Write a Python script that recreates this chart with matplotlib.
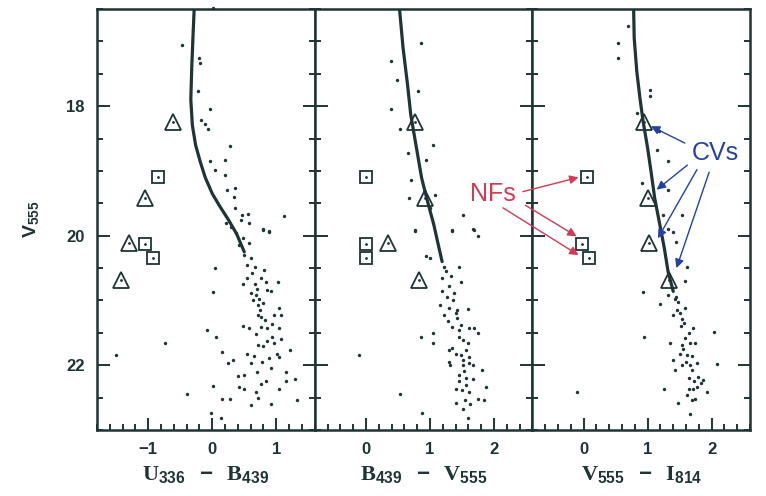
import matplotlib.pyplot as plt
import numpy as np
from matplotlib.ticker import MultipleLocator

plt.rcParams['font.family'] = ['Liberation Sans', 'DejaVu Sans']
plt.rcParams['mathtext.fontset'] = 'custom'
plt.rcParams['mathtext.rm'] = 'Liberation Serif:bold'
plt.rcParams['mathtext.sf'] = 'Liberation Sans:bold'

# V magnitudes of the cataclysmic variables (triangles) and the novae-like faint stars (squares)
cv_v = [18.24, 19.42, 20.12, 20.69]
nf_v = [19.09, 20.13, 20.35]

# colours of the same stars in each index
cv_ub = [-0.62, -1.05, -1.30, -1.43]
cv_bv = [0.76, 0.92, 0.35, 0.83]
cv_vi = [0.95, 1.00, 1.02, 1.33]
nf_ub = [-0.85, -1.05, -0.93]
nf_bv = [0.00, 0.00, 0.00]
nf_vi = [0.06, -0.02, 0.08]

# main-sequence ridge (colour, V)
ridge_ub = [(-0.28, 16.45), (-0.30, 16.9), (-0.32, 17.4), (-0.335, 17.9), (-0.31, 18.3),
            (-0.26, 18.6), (-0.19, 18.85), (-0.11, 19.1), (0.00, 19.35), (0.12, 19.55),
            (0.25, 19.75), (0.38, 19.97), (0.50, 20.25)]
ridge_bv = [(0.52, 16.45), (0.58, 17.1), (0.65, 17.67), (0.70, 18.13), (0.79, 18.65),
            (0.87, 19.11), (0.97, 19.50), (1.06, 19.83), (1.13, 20.14), (1.19, 20.40)]
ridge_vi = [(0.78, 16.45), (0.79, 16.95), (0.83, 17.46), (0.88, 17.88), (0.93, 18.24),
            (1.00, 18.65), (1.06, 19.06), (1.11, 19.42), (1.19, 19.83), (1.26, 20.19),
            (1.32, 20.56), (1.40, 20.86)]

# individual stars off the ridge / on the faint end
field_ub = [(-0.48, 17.05), (-0.20, 17.26), (-0.19, 17.33), (-0.22, 17.77), (-0.03, 18.05),
            (-0.18, 18.21), (-0.11, 18.28), (-0.06, 18.36), (0.28, 18.61), (0.20, 18.83),
            (-0.03, 18.85), (0.04, 18.98), (0.20, 19.07), (0.23, 19.29), (0.35, 19.27),
            (0.34, 19.41), (0.35, 19.57), (0.46, 19.68), (0.56, 19.67), (1.12, 19.69),
            (0.80, 19.90), (0.89, 19.93), (0.45, 19.76), (0.58, 19.81), (0.80, 19.91),
            (0.89, 19.94), (0.04, 20.50), (0.01, 20.87), (1.02, 20.72), (-0.08, 21.46),
            (0.06, 21.57), (0.16, 21.80), (0.25, 21.97), (0.32, 21.92), (-0.39, 22.44),
            (0.01, 22.32), (0.15, 22.52), (0.27, 22.52), (0.91, 22.60), (1.32, 22.54),
            (1.30, 22.21), (1.15, 22.25), (1.04, 22.37), (0.40, 22.16), (0.49, 22.15),
            (0.42, 22.33), (0.49, 22.37), (0.68, 22.41), (0.76, 22.29), (0.84, 22.25),
            (0.70, 22.11), (0.60, 21.97), (0.54, 21.83), (0.65, 21.85), (0.48, 21.39),
            (0.58, 21.43), (0.76, 21.41), (0.86, 21.43), (0.94, 21.37), (1.04, 21.43),
            (0.94, 21.56), (1.07, 21.59), (0.97, 21.66), (0.71, 21.69), (0.79, 21.70),
            (0.89, 21.89), (1.01, 21.83), (1.04, 21.88), (1.21, 21.77), (1.15, 22.10),
            (-0.02, 22.74), (0.13, 22.81), (1.04, 21.11), (1.08, 21.23), (0.97, 21.23),
            (0.71, 21.23), (0.76, 21.25), (0.60, 20.89), (0.68, 20.92), (0.73, 20.97),
            (0.71, 21.07), (0.79, 21.04), (0.86, 20.84), (0.91, 20.86), (0.48, 20.74),
            (0.55, 20.66), (0.76, 20.66), (0.84, 20.71), (0.66, 20.48), (0.81, 20.53),
            (0.60, 20.35), (0.50, 20.30), (0.42, 20.14), (0.48, 20.04), (0.58, 20.12),
            (0.29, 19.86), (0.37, 19.96), (0.22, 19.81), (-0.74, 21.65), (-1.50, 21.84),
            (0.55, 20.45), (0.62, 20.58), (0.66, 20.75), (0.70, 20.82), (0.63, 21.00),
            (0.74, 21.15), (0.82, 21.30), (0.68, 21.52), (0.85, 21.62), (0.78, 21.95),
            (0.92, 22.05), (0.72, 22.50), (0.60, 22.62), (0.01, 16.49)]
field_bv = [(0.86, 17.03), (0.39, 17.31), (0.49, 17.59), (0.82, 17.77), (0.39, 18.05),
            (0.54, 18.36), (1.04, 18.60), (0.94, 18.83), (0.66, 18.73), (0.71, 19.14),
            (0.68, 19.42), (1.08, 19.37), (1.00, 19.58), (1.51, 19.68), (1.67, 19.89),
            (1.75, 20.01), (0.77, 19.91), (1.35, 19.91), (0.77, 19.93), (1.35, 19.93),
            (1.69, 19.91), (0.94, 20.31), (1.00, 20.34), (1.46, 20.49), (1.48, 20.71),
            (1.19, 20.66), (1.19, 20.86), (1.16, 21.07), (1.30, 21.11), (1.59, 21.13),
            (1.22, 21.23), (1.43, 21.27), (1.35, 21.41), (1.48, 21.38), (1.61, 21.42),
            (1.69, 21.43), (1.75, 21.51), (0.86, 21.57), (1.05, 21.51), (1.04, 21.65),
            (-0.11, 21.84), (1.30, 21.77), (1.35, 21.73), (1.40, 21.82), (1.48, 21.84),
            (1.56, 21.77), (1.61, 21.87), (1.30, 21.95), (1.51, 22.00), (1.61, 21.97),
            (1.68, 22.00), (1.81, 22.08), (1.46, 22.15), (1.57, 22.19), (1.67, 22.21),
            (1.56, 22.31), (1.40, 22.37), (1.50, 22.38), (1.61, 22.41), (1.87, 22.33),
            (1.75, 22.52), (1.85, 22.54), (1.55, 22.54), (1.40, 22.59), (0.53, 22.44),
            (0.88, 22.73), (1.59, 22.81), (1.32, 22.00), (1.53, 22.09), (1.46, 21.56),
            (1.51, 21.61), (1.59, 21.66), (1.25, 20.55), (1.30, 20.78), (1.27, 20.95),
            (1.36, 21.00), (1.28, 21.32), (1.42, 21.15), (1.22, 20.48), (1.33, 20.62),
            (1.38, 20.88), (1.40, 21.20), (1.45, 21.45), (1.52, 21.92), (1.45, 22.25),
            (1.62, 22.60), (1.52, 22.68)]
field_vi = [(0.54, 17.03), (0.54, 17.25), (0.70, 16.77), (1.04, 17.75), (1.04, 17.85),
            (0.83, 18.11), (1.17, 18.39), (1.14, 18.68), (1.32, 18.84), (1.24, 19.22),
            (1.32, 19.29), (1.54, 19.68), (1.32, 19.89), (1.24, 19.68), (0.91, 19.19),
            (1.40, 19.94), (1.45, 20.09), (1.61, 20.49), (1.59, 20.70), (0.93, 20.87),
            (1.19, 21.06), (1.48, 21.02), (1.58, 21.11), (1.40, 21.23), (1.54, 21.28),
            (1.71, 21.43), (1.64, 21.51), (1.56, 21.35), (2.03, 21.49), (0.95, 21.57),
            (1.35, 21.65), (1.53, 21.69), (1.66, 21.65), (1.74, 21.66), (1.50, 21.82),
            (1.61, 21.84), (1.69, 21.85), (1.40, 21.92), (1.53, 22.00), (1.66, 22.00),
            (1.77, 21.97), (1.43, 22.08), (1.69, 22.08), (1.64, 22.19), (1.79, 22.18),
            (1.87, 22.23), (1.77, 22.33), (1.84, 22.28), (1.93, 22.41), (1.64, 22.37),
            (1.71, 22.36), (1.61, 22.46), (1.69, 22.54), (1.74, 22.52), (1.48, 22.59),
            (1.26, 22.37), (1.66, 22.75), (-0.11, 22.42), (2.09, 21.98), (1.32, 20.91),
            (1.45, 20.94), (1.38, 20.81), (1.46, 21.15), (1.52, 21.40), (1.58, 21.58),
            (1.42, 20.98), (1.50, 21.20), (1.55, 21.75), (1.60, 21.95), (1.72, 22.25)]

xlabels = [r'$\mathrm{U}_{\mathsf{336}}\ \ \mathsf{−}\ \ \mathrm{B}_{\mathsf{439}}$',
           r'$\mathrm{B}_{\mathsf{439}}\ \ \mathsf{−}\ \ \mathrm{V}_{\mathsf{555}}$',
           r'$\mathrm{V}_{\mathsf{555}}\ \ \mathsf{−}\ \ \mathrm{I}_{\mathsf{814}}$']
xlims = [(-1.8, 1.6), (-0.8, 2.6), (-0.8, 2.6)]

ink = '#1f3434'
red = '#d23a55'
blue = '#2442a6'

fig = plt.figure(figsize=(7.66, 4.96), dpi=100)
x0, w = 97 / 766, 217.7 / 766
y0, h = 66 / 496, 421 / 496
axes = [fig.add_axes([x0 + i * w, y0, w, h]) for i in range(3)]

panels = [(ridge_ub, field_ub, cv_ub, nf_ub),
          (ridge_bv, field_bv, cv_bv, nf_bv),
          (ridge_vi, field_vi, cv_vi, nf_vi)]

for i, (ax, (ridge, field, cvx, nfx)) in enumerate(zip(axes, panels)):
    rx, rv = np.array(ridge).T
    fx, fv = np.array(field).T
    ax.plot(rx, rv, color=ink, lw=2.3, solid_capstyle='round', solid_joinstyle='round')
    ax.scatter(fx, fv, s=6, color=ink, lw=0, clip_on=False)
    ax.plot(cvx, cv_v, '^', mfc='none', mec=ink, ms=11, mew=1.3)
    ax.plot(nfx, nf_v, 's', mfc='none', mec=ink, ms=8.5, mew=1.3)
    ax.plot(cvx + nfx, cv_v + nf_v, '.', color=ink, ms=2)

    ax.set_xlim(*xlims[i])
    ax.set_ylim(23, 16.5)
    ax.xaxis.set_major_locator(MultipleLocator(1))
    ax.xaxis.set_minor_locator(MultipleLocator(0.2))
    ax.yaxis.set_major_locator(MultipleLocator(2))
    ax.yaxis.set_minor_locator(MultipleLocator(0.5))
    ax.tick_params(which='both', direction='in', left=True, right=True, top=False,
                   bottom=True, color=ink, width=1.4, labelcolor=ink)
    ax.tick_params(which='major', length=9, pad=9, labelsize=12)
    ax.tick_params(which='minor', length=4.5)
    for lab in ax.get_xticklabels() + ax.get_yticklabels():
        lab.set_fontweight('bold')
    for sp in ax.spines.values():
        sp.set_linewidth(1.8)
        sp.set_color(ink)
    ax.set_xlabel(xlabels[i], fontsize=16, color=ink, labelpad=5)
    if i > 0:
        ax.tick_params(labelleft=False)

axes[0].set_ylabel(r'$\mathsf{V}_{\mathsf{555}}$', fontsize=14, color=ink, labelpad=17)

ax2, ax3 = axes[1], axes[2]

# NFs label with arrows into the last panel
ax2.text(1.98, 19.36, 'NFs', color=red, fontsize=18, ha='center', va='center')
nf_starts = [(2.45, 19.32), (2.49, 19.53), (2.14, 19.57)]
nf_ends = [(-0.08, 19.10), (-0.11, 20.01), (-0.08, 20.30)]
for s, e in zip(nf_starts, nf_ends):
    ax3.annotate('', xy=e, xycoords=ax3.transData, xytext=s, textcoords=ax2.transData,
                 arrowprops=dict(arrowstyle='-|>', color=red, lw=1.0,
                                 mutation_scale=13, shrinkA=0, shrinkB=0))

# CVs label
ax3.text(2.05, 18.73, 'CVs', color=blue, fontsize=18, ha='center', va='center')
cv_starts = [(1.58, 18.57), (1.62, 18.91), (1.77, 18.98), (1.96, 19.02)]
cv_ends = [(1.05, 18.31), (1.14, 19.29), (1.16, 20.04), (1.45, 20.50)]
for s, e in zip(cv_starts, cv_ends):
    ax3.annotate('', xy=e, xytext=s,
                 arrowprops=dict(arrowstyle='-|>', color=blue, lw=1.0,
                                 mutation_scale=13, shrinkA=0, shrinkB=0))

fig.savefig('out.png', dpi=100)
